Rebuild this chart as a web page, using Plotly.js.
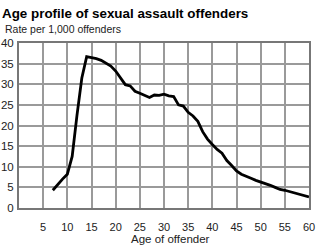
<!DOCTYPE html>
<html>
<head>
<meta charset="utf-8">
<script src="https://cdn.plot.ly/plotly-3.0.1.min.js"></script>
<style>
html,body{margin:0;padding:0;background:#fff;}
#chart{width:320px;height:248px;}
</style>
</head>
<body>
<div id="chart"></div>
<script>
var ages = [7,8,9,10,11,12,13,14,15,16,17,18,19,20,21,22,23,24,25,26,27,28,29,30,31,32,33,34,35,36,37,38,39,40,41,42,43,44,45,46,47,48,49,50,51,52,53,54,55,56,57,58,59,60];
var rates = [4.3,5.7,7.0,8.2,12.5,22.5,31.5,36.7,36.5,36.2,35.8,35.2,34.4,33.2,31.5,29.9,29.6,28.3,27.8,27.3,26.8,27.4,27.3,27.6,27.2,27.0,25.0,24.7,23.2,22.3,21.0,18.5,16.7,15.4,14.2,13.3,11.5,10.3,9.0,8.2,7.6,7.2,6.7,6.3,6.0,5.5,5.0,4.5,4.3,4.0,3.7,3.4,3.0,2.7];
var xTicks = [5,10,15,20,25,30,35,40,45,50,55,60];
var yTicks = [0,5,10,15,20,25,30,35,40];
var chartTitle = "Age profile of sexual assault offenders";
var yLabel = "Rate per 1,000 offenders";
var xLabel = "Age of offender";

var font = "Liberation Sans, Arial, sans-serif";

var trace = {
  x: ages, y: rates, type: "scatter", mode: "lines",
  line: {color: "#000", width: 2.8, shape: "linear"},
  hoverinfo: "skip"
};

var layout = {
  width: 320, height: 248,
  margin: {l: 19, r: 11, t: 43, b: 40},
  paper_bgcolor: "#fff", plot_bgcolor: "#fff",
  showlegend: false,
  font: {family: font, color: "#222", size: 11},
  xaxis: {
    range: [0, 60], tickvals: xTicks, ticktext: xTicks.map(String),
    showgrid: true, gridcolor: "#9a9a9a", gridwidth: 2,
    showline: true, linecolor: "#777", linewidth: 2, mirror: true,
    zeroline: false, ticks: "", ticklabelstandoff: 8,
    tickfont: {family: font, size: 11, color: "#222"}
  },
  yaxis: {
    range: [0, 40], tickvals: yTicks, ticktext: yTicks.map(String),
    showgrid: true, gridcolor: "#9a9a9a", gridwidth: 2,
    showline: true, linecolor: "#777", linewidth: 2, mirror: true,
    zeroline: false, ticks: "", ticklabelstandoff: 1,
    tickfont: {family: font, size: 11.5, color: "#222"}
  },
  annotations: [
    {text: "<b>" + chartTitle + "</b>", xref: "paper", yref: "paper",
     x: -19/290, y: 1 + 29/165, xanchor: "left", yanchor: "middle",
     showarrow: false, font: {family: font, size: 13.4, color: "#000"}},
    {text: yLabel, xref: "paper", yref: "paper",
     x: -16/290, y: 1 + 14/165, xanchor: "left", yanchor: "middle",
     showarrow: false, font: {family: font, size: 10.5, color: "#222"}},
    {text: xLabel, xref: "paper", yref: "paper",
     x: (170 - 19)/290, y: -31/165, xanchor: "center", yanchor: "middle",
     showarrow: false, font: {family: font, size: 11.5, color: "#222"}}
  ]
};

Plotly.newPlot("chart", [trace], layout, {staticPlot: true, displayModeBar: false});
</script>
</body>
</html>
